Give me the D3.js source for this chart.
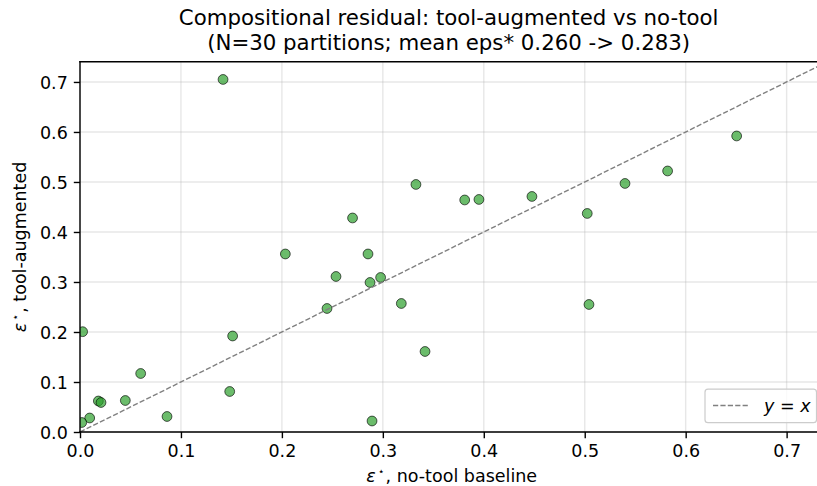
<!DOCTYPE html>
<html>
<head>
<meta charset="utf-8">
<script src="https://cdn.jsdelivr.net/npm/d3@7"></script>
<style>
  html, body { margin: 0; padding: 0; background: #fff; }
  svg { display: block; font-family: "DejaVu Sans", sans-serif; }
</style>
</head>
<body>
<svg id="chart" width="817" height="486"></svg>
<script>
// ---- data ----
const epsNoTool = [
  0.1417, 0.2034, 0.2853, 0.2536, 0.2873, 0.2978, 0.2447, 0.3183, 0.3418, 0.0026,
  0.1512, 0.0601, 0.1483, 0.0182, 0.0208, 0.0449, 0.0096, 0.0862, 0.0017, 0.2893,
  0.6505, 0.5821, 0.5399, 0.3328, 0.3811, 0.3952, 0.4477, 0.5025, 0.5042, 0.2700
];
const epsTool = [
  0.705, 0.356, 0.356, 0.311, 0.299, 0.309, 0.247, 0.257, 0.161, 0.2006,
  0.192, 0.117, 0.081, 0.062, 0.059, 0.063, 0.028, 0.031, 0.019, 0.022,
  0.592, 0.522, 0.497, 0.495, 0.464, 0.465, 0.471, 0.437, 0.255, 0.428
];
const tickValues = [0.0, 0.1, 0.2, 0.3, 0.4, 0.5, 0.6, 0.7];
const axisMax = 0.7403;
const titleLines = [
  "Compositional residual: tool-augmented vs no-tool",
  "(N=30 partitions; mean eps* 0.260 -> 0.283)"
];
const xLabelText = ", no-tool baseline";
const yLabelText = ", tool-augmented";

// ---- layout ----
const svg = d3.select("#chart");
const pL = 80, pR = 827.3, pT = 61.8, pB = 432;
const fs = 17.5;
const mathFont = "DejaVu Sans, sans-serif";

const x = d3.scaleLinear().domain([0, axisMax]).range([pL, pR]);
const y = d3.scaleLinear().domain([0, axisMax]).range([pB, pT]);

svg.append("defs").append("clipPath").attr("id", "plotclip")
  .append("rect").attr("x", pL).attr("y", pT)
  .attr("width", pR - pL).attr("height", pB - pT);

// grid
const grid = svg.append("g");
grid.selectAll("line.gx").data(tickValues).enter().append("line")
  .attr("x1", d => x(d)).attr("x2", d => x(d))
  .attr("y1", pT).attr("y2", pB)
  .attr("stroke", "#b0b0b0").attr("stroke-opacity", 0.3).attr("stroke-width", 1.4);
grid.selectAll("line.gy").data(tickValues).enter().append("line")
  .attr("y1", d => y(d)).attr("y2", d => y(d))
  .attr("x1", pL).attr("x2", pR)
  .attr("stroke", "#b0b0b0").attr("stroke-opacity", 0.3).attr("stroke-width", 1.4);

// points
const pts = d3.zip(epsNoTool, epsTool);
svg.append("g").attr("clip-path", "url(#plotclip)")
  .selectAll("circle").data(pts).enter().append("circle")
  .attr("cx", d => x(d[0])).attr("cy", d => y(d[1]))
  .attr("r", 4.9)
  .attr("fill", "#2ca02c").attr("fill-opacity", 0.7)
  .attr("stroke", "#000").attr("stroke-opacity", 0.7).attr("stroke-width", 0.9);

// y = x line
svg.append("line").attr("clip-path", "url(#plotclip)")
  .attr("x1", x(0)).attr("y1", y(0)).attr("x2", x(axisMax)).attr("y2", y(axisMax))
  .attr("stroke", "#808080").attr("stroke-width", 1.4)
  .attr("stroke-dasharray", "5.2,2.2");

// axes
const fmt = d3.format(".1f");
const xAxis = svg.append("g").attr("transform", `translate(0,${pB})`)
  .call(d3.axisBottom(x).tickValues(tickValues).tickFormat(fmt).tickSizeOuter(0).tickSize(6.2).tickPadding(5));
const yAxis = svg.append("g").attr("transform", `translate(${pL},0)`)
  .call(d3.axisLeft(y).tickValues(tickValues).tickFormat(fmt).tickSizeOuter(0).tickSize(6.2).tickPadding(6));
[xAxis, yAxis].forEach(a => {
  a.select(".domain").remove();
  a.selectAll(".tick line").attr("stroke", "#000").attr("stroke-width", 1.4);
  a.selectAll(".tick text").attr("fill", "#000").style("font-size", fs + "px")
    .style("font-family", "DejaVu Sans, sans-serif");
});
xAxis.selectAll(".tick text").attr("dy", null).attr("y", 6.2 + 5 + fs * 0.76);
yAxis.selectAll(".tick text").attr("dy", "0.36em");

// spines
const sp = svg.append("g").attr("stroke", "#000").attr("stroke-width", 1.4).attr("stroke-linecap", "square");
sp.append("line").attr("x1", pL).attr("x2", pL).attr("y1", pT).attr("y2", pB);
sp.append("line").attr("x1", pL).attr("x2", pR).attr("y1", pB).attr("y2", pB);
sp.append("line").attr("x1", pL).attr("x2", pR).attr("y1", pT).attr("y2", pT);
sp.append("line").attr("x1", pR).attr("x2", pR).attr("y1", pT).attr("y2", pB);

// title
const title = svg.append("text").attr("text-anchor", "middle")
  .style("font-size", "21.3px").attr("fill", "#000");
titleLines.forEach((t, i) => {
  title.append("tspan").attr("x", (pL + pR) / 2 - 5).attr("y", 25 + i * 24.5).text(t);
});

function epsLabel(sel, rest) {
  sel.append("tspan").style("font-family", mathFont).style("font-style", "italic").text("ε");
  sel.append("tspan").attr("dx", 2).attr("dy", -7).style("font-size", "11px").text("⋆");
  sel.append("tspan").attr("dy", 7).attr("dx", 1).text(rest);
}

// x label
const xl = svg.append("text").attr("text-anchor", "middle")
  .attr("x", (pL + pR) / 2 - 2).attr("y", 482)
  .style("font-size", fs + "px").attr("fill", "#000");
epsLabel(xl, xLabelText);

// y label
const yl = svg.append("text").attr("text-anchor", "middle")
  .attr("transform", `translate(26,${(pT + pB) / 2}) rotate(-90)`)
  .style("font-size", fs + "px").attr("fill", "#000");
epsLabel(yl, yLabelText);

// legend
const lgR = 817, lgB = 422.7, lgW = 112, lgH = 33.5;
const lg = svg.append("g");
lg.append("rect").attr("x", lgR - lgW).attr("y", lgB - lgH)
  .attr("width", lgW - 0.5).attr("height", lgH).attr("rx", 3)
  .attr("fill", "#fff").attr("fill-opacity", 0.8)
  .attr("stroke", "#cccccc").attr("stroke-width", 1.2);
lg.append("line").attr("x1", lgR - lgW + 8).attr("x2", lgR - lgW + 45)
  .attr("y1", lgB - lgH / 2 - 0.5).attr("y2", lgB - lgH / 2 - 0.5)
  .attr("stroke", "#808080").attr("stroke-width", 1.4).attr("stroke-dasharray", "5.2,2.2");
const lt = lg.append("text").attr("x", lgR - lgW + 59).attr("y", lgB - lgH / 2 + 6)
  .style("font-size", fs + "px").attr("fill", "#000");
lt.append("tspan").style("font-family", mathFont).style("font-style", "italic").text("y");
lt.append("tspan").text(" = ");
lt.append("tspan").style("font-family", mathFont).style("font-style", "italic").text("x");
</script>
</body>
</html>
